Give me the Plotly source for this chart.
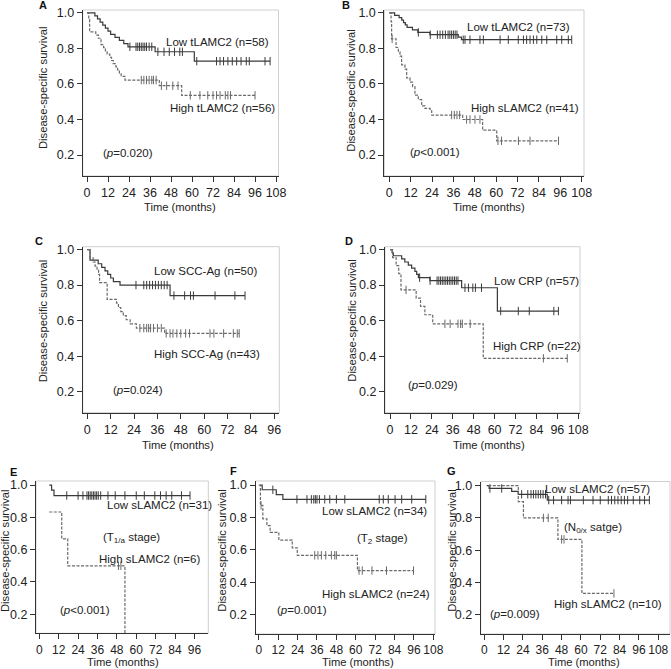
import plotly.graph_objects as go

W, H = 671, 669
FONT = "Arial, Liberation Sans, Helvetica, sans-serif"
SOLID_C = "#3a3a3a"
DASH_C = "#6a6a6a"

# ---------------- data ----------------
# Panel A
a_low_t = [0, 4.5, 6, 7.5, 9, 10.5, 12, 13.5, 16, 18.5, 21, 23.4, 38.9, 61.3]
a_low_s = [1.0, .983, .966, .948, .931, .914, .897, .879, .862, .845, .827, .809, .781, .728]
a_low_end = 104.6
a_low_c = [24.5, 28, 29, 30, 31, 32, 33, 34, 35.5, 37, 40.5, 44, 47, 50, 53, 54.5, 62.7, 74, 76, 78,
           80.5, 83, 85.5, 88, 91, 92.7, 101.7, 104.6]
a_high_t = [0, 1.0, 1.5, 5, 6.5, 8, 9.5, 10.5, 11.5, 13, 14, 15, 16.5, 17.5, 18.5, 19.5, 21.7, 41.3, 54.1]
a_high_s = [1.0, .964, .893, .875, .857, .821, .804, .786, .768, .75, .732, .714, .696, .679, .661, .643,
            .622, .59, .536]
a_high_end = 96
a_high_c = [31, 32.5, 34, 35.5, 37, 38, 39.5, 42.5, 45.5, 49, 52, 59, 64.5, 69, 72, 74, 76, 79, 80.5, 82, 96]

# Panel B
b_low_t = [0, 3, 5.5, 7, 8, 9, 10, 13, 16, 22.8, 38.7, 40.5]
b_low_s = [1.0, .986, .973, .959, .945, .932, .918, .904, .890, .877, .863, .849]
b_low_end = 102.4
b_low_c = [16.3, 23, 27, 28.5, 30, 31.5, 33, 34, 35, 36, 37, 38, 41.5, 42.5, 45.3, 50.9, 52.8, 62.2, 66.8,
           72.4, 75.3, 77.1, 79, 80.9, 82.8, 85.6, 88.4, 94, 96.8, 100.5, 102.4]
b_high_t = [0, 1.0, 1.3, 3.8, 5.1, 6.0, 6.9, 8.8, 9.75, 11.6, 13.1, 14.4, 16.3, 18.2, 20.0, 22.9, 23.8,
            41.2, 52.4, 60.3]
b_high_s = [1.0, .951, .854, .805, .78, .756, .707, .683, .634, .61, .585, .537, .512, .476, .462, .449,
            .425, .40, .34, .28]
b_high_end = 95
b_high_c = [1.6, 35, 36.5, 38, 39.5, 43.4, 45.3, 48.1, 50.9, 61, 63, 72.5, 79, 95]

# Panel C
c_low_t = [0, 1.4, 5.6, 7.4, 9.1, 10.5, 12, 13.4, 16.8, 42.5]
c_low_s = [1.0, .94, .92, .90, .88, .86, .84, .82, .80, .741]
c_low_end = 81
c_low_c = [25, 29, 30.5, 32, 33.5, 35, 36.5, 38, 39.5, 41, 44.5, 50, 53, 54.5, 65.6, 75.8, 81]
c_high_t = [0, 1.4, 3, 4, 5, 5.8, 6.3, 10.2, 15, 16, 17.2, 18.5, 20, 22, 25.2, 39.7]
c_high_s = [1.0, .953, .93, .907, .884, .86, .814, .72, .698, .674, .651, .628, .605, .582, .558, .528]
c_high_end = 78
c_high_c = [27, 29, 30.5, 31.5, 32.5, 34, 36, 38, 40.5, 42.5, 44, 46, 48, 50.5, 52.5, 63, 65, 70, 75, 77, 78]

# Panel D
d_low_t = [0, 1.2, 1.9, 6.7, 8.5, 10.5, 12.4, 14.3, 15.3, 16.3, 22.9, 41.1, 61.6]
d_low_s = [1.0, .982, .965, .947, .93, .912, .895, .877, .86, .842, .825, .785, .654]
d_low_end = 96.6
d_low_c = [17, 23, 27, 28, 29, 30, 31, 32, 33, 34, 35, 36, 37, 38, 39, 43, 45, 47.5, 49, 52.5,
           63.5, 73.6, 79.9, 94, 96.6]
d_high_t = [0, 1.5, 3.5, 5, 6.3, 15, 17.5, 20, 24.5, 53.5]
d_high_s = [1.0, .955, .909, .864, .773, .727, .68, .633, .582, .388]
d_high_end = 101.7
d_high_c = [9.2, 31.5, 34.5, 39, 40.5, 41.5, 46, 88, 101.7]

# Panel E
e_low_t = [6.2, 7.6, 9.1]
e_low_s = [1.0, .968, .935]
e_low_end = 93.3
e_low_c = [17, 24, 27, 29.5, 30.5, 31.5, 32.5, 33.5, 34.5, 35.5, 36.5, 38, 42.5, 47, 53, 60, 65, 71.5,
           75, 78.5, 82, 88, 93.3]
e_high_t = [6.2, 13.9, 17.6, 53]
e_high_s = [.833, .667, .5, 0.0]
e_high_end = 53
e_high_c = [49, 50.5]

# Panel F
f_low_t = [1.0, 2.1, 10.8, 14.9]
f_low_s = [1.0, .971, .941, .912]
f_low_end = 103.3
f_low_c = [8.7, 23.6, 29.8, 32.5, 34, 35, 36, 37.5, 40.8, 43.9, 48, 53.2, 74.5, 77, 80.1, 84.3, 88.4,
           94.6, 103.3]
f_high_t = [0, 1.0, 2.5, 5, 7, 12.4, 20.7, 23.8, 61]
f_high_s = [1.0, .875, .792, .75, .708, .661, .613, .567, .473]
f_high_end = 95.7
f_high_c = [1.4, 34.6, 36.6, 38.7, 41.4, 44.9, 47, 48, 62, 64, 70, 79, 95.7]

# Panel G
g_low_t = [1.5, 3, 17, 21.1, 39.1]
g_low_s = [1.0, .982, .964, .946, .91]
g_low_end = 102.5
g_low_c = [3.5, 10.8, 23.2, 27, 29, 30.5, 32, 33.5, 35, 36.5, 38, 40, 43, 48, 52, 53.5, 61.5, 67.5, 72,
           77, 79, 81, 83, 85, 87, 89, 92.5, 96.5, 99.5, 102.5]
g_high_t = [2.5, 21.1, 24.3, 45.7, 60.6]
g_high_s = [1.0, .9, .8, .667, .333]
g_high_end = 80.5
g_high_c = [36.7, 39.7, 48, 49.5, 80.5]

y_ticks = [0.2, 0.4, 0.6, 0.8, 1.0]
x_ticks_108 = [0, 12, 24, 36, 48, 60, 72, 84, 96, 108]
x_ticks_96 = [0, 12, 24, 36, 48, 60, 72, 84, 96]

# ---------------- panel layout (pixels) ----------------
panels = [
    dict(letter="A", dom_x=(82.7, 278.5), dom_y=(10, 176), xr=(-2.46, 109.4), yr=(0.082, 1.016),
         ticks=x_ticks_108, xfs=12.5,
         low=(a_low_t, a_low_s, a_low_end, a_low_c), high=(a_high_t, a_high_s, a_high_end, a_high_c),
         labels=[("Low tLAMC2 (n=58)", 44.2, 0.837), ("High tLAMC2 (n=56)", 46.5, 0.463),
                 ("(<i>p</i>=0.020)", 8, 0.213)],
         letter_pos=(43, 5), ytitle=(43, 88), xtitle=(180, 206.7)),
    dict(letter="B", dom_x=(384.3, 584), dom_y=(10, 176), xr=(-2.8, 109.3), yr=(0.082, 1.016),
         ticks=x_ticks_108, xfs=12.5,
         low=(b_low_t, b_low_s, b_low_end, b_low_c), high=(b_high_t, b_high_s, b_high_end, b_high_c),
         labels=[("Low tLAMC2 (n=73)", 42.5, 0.921), ("High sLAMC2 (n=41)", 44.8, 0.463),
                 ("(<i>p</i><0.001)", 10.3, 0.219)],
         letter_pos=(346, 5), ytitle=(350.7, 91), xtitle=(489, 206.7)),
    dict(letter="C", dom_x=(82.7, 279.3), dom_y=(246.7, 412.7), xr=(-2.36, 98.6), yr=(0.082, 1.016),
         ticks=x_ticks_96, xfs=12.5,
         low=(c_low_t, c_low_s, c_low_end, c_low_c), high=(c_high_t, c_high_s, c_high_end, c_high_c),
         labels=[("Low SCC-Ag (n=50)", 33.4, 0.878), ("High SCC-Ag (n=43)", 33.4, 0.41),
                 ("(<i>p</i>=0.024)", 12.2, 0.209)],
         letter_pos=(39, 241), ytitle=(43.3, 321), xtitle=(178, 445)),
    dict(letter="D", dom_x=(385, 580), dom_y=(246.7, 412.7), xr=(-2.87, 109), yr=(0.082, 1.016),
         ticks=x_ticks_108, xfs=12.5,
         low=(d_low_t, d_low_s, d_low_end, d_low_c), high=(d_high_t, d_high_s, d_high_end, d_high_c),
         labels=[("Low CRP (n=57)", 58.5, 0.822), ("High CRP (n=22)", 57.7, 0.46),
                 ("(<i>p</i>=0.029)", 9.1, 0.237)],
         letter_pos=(349, 241), ytitle=(351.7, 321), xtitle=(489, 445)),
    dict(letter="E", dom_x=(36, 208.3), dom_y=(481, 633.3), xr=(-2.04, 104.6), yr=(0.082, 1.025),
         ticks=x_ticks_96, xfs=12,
         low=(e_low_t, e_low_s, e_low_end, e_low_c), high=(e_high_t, e_high_s, e_high_end, e_high_c),
         labels=[("Low sLAMC2 (n=31)", 40.7, 0.876), ("(T<sub>1/a</sub> stage)", 38.2, 0.67),
                 ("High sLAMC2 (n=6)", 35.5, 0.542), ("(<i>p</i><0.001)", 11.8, 0.226)],
         letter_pos=(13, 471.7), ytitle=(5, 551), xtitle=(123.3, 661.7)),
    dict(letter="F", dom_x=(255.5, 435), dom_y=(481, 634), xr=(-2.04, 109), yr=(0.082, 1.025),
         ticks=x_ticks_108, xfs=12,
         low=(f_low_t, f_low_s, f_low_end, f_low_c), high=(f_high_t, f_high_s, f_high_end, f_high_c),
         labels=[("Low sLAMC2 (n=34)", 37.9, 0.841), ("(T<sub>2</sub> stage)", 59.6, 0.67),
                 ("High sLAMC2 (n=24)", 37.9, 0.33), ("(<i>p</i>=0.001)", 10, 0.231)],
         letter_pos=(233, 470.7), ytitle=(221.7, 551), xtitle=(358, 661.7)),
    dict(letter="G", dom_x=(480.7, 670), dom_y=(481.5, 634), xr=(-2.23, 115.3), yr=(0.082, 1.025),
         ticks=x_ticks_108, xfs=12,
         low=(g_low_t, g_low_s, g_low_end, g_low_c), high=(g_high_t, g_high_s, g_high_end, g_high_c),
         labels=[("Low sLAMC2 (n=57)", 36.2, 0.977), ("(N<sub>0/x</sub> satge)", 48, 0.735),
                 ("High sLAMC2 (n=10)", 41.8, 0.27), ("(<i>p</i>=0.009)", 2.5, 0.205)],
         letter_pos=(451, 471), ytitle=(451.7, 551), xtitle=(583.8, 661.7)),
]


def surv_at(t, times, surv):
    val = surv[0]
    for ti, si in zip(times, surv):
        if ti <= t:
            val = si
    return val


def px(x):
    return x / W


def py(y):
    return 1 - y / H


fig = go.Figure()
annotations = []
shapes = []
layout = {}

for i, p in enumerate(panels):
    n = "" if i == 0 else str(i + 1)
    xa, ya = "x" + n, "y" + n
    for key, color, dash in (("low", SOLID_C, "solid"), ("high", DASH_C, "3px,1.5px")):
        times, surv, end, cens = p[key]
        fig.add_trace(go.Scatter(
            x=list(times) + [end], y=list(surv) + [surv[-1]], mode="lines",
            line=dict(color=color, width=1.2, dash=dash, shape="hv"),
            xaxis=xa, yaxis=ya, showlegend=False, hoverinfo="skip"))
        fig.add_trace(go.Scatter(
            x=cens, y=[surv_at(c, times, surv) for c in cens], mode="markers",
            marker=dict(symbol="line-ns-open", size=6, color=color, line=dict(color=color, width=1)),
            xaxis=xa, yaxis=ya, showlegend=False, hoverinfo="skip", cliponaxis=False))
    layout["xaxis" + n] = dict(
        domain=[px(p["dom_x"][0]), px(p["dom_x"][1])], range=list(p["xr"]), anchor=ya,
        tickvals=p["ticks"], ticks="outside", ticklen=5, tickcolor="#333", showline=True,
        linecolor="#333", linewidth=1, showgrid=False, zeroline=False, automargin=False,
        tickangle=0, tickfont=dict(size=p["xfs"], color="#222", family=FONT))
    layout["yaxis" + n] = dict(
        domain=[py(p["dom_y"][1]), py(p["dom_y"][0])], range=list(p["yr"]), anchor=xa,
        tickvals=y_ticks, tickformat=".1f", ticks="outside", ticklen=5, tickcolor="#333",
        showline=True, linecolor="#333", linewidth=1, showgrid=False, zeroline=False,
        automargin=False, tickfont=dict(size=12.5, color="#222", family=FONT))
    # light frame (top / right)
    shapes.append(dict(type="rect", xref=xa + " domain", yref=ya + " domain", x0=0, x1=1, y0=0, y1=1,
                       line=dict(color="#cfcfcf", width=1), layer="below"))
    for txt, lx, ly in p["labels"]:
        annotations.append(dict(text=txt, x=lx, y=ly, xref=xa, yref=ya, xanchor="left",
                                yanchor="middle", showarrow=False,
                                font=dict(size=11.5, color="#222", family=FONT)))
    annotations.append(dict(text="<b>%s</b>" % p["letter"], x=px(p["letter_pos"][0]),
                            y=py(p["letter_pos"][1]), xref="paper", yref="paper",
                            xanchor="center", yanchor="middle", showarrow=False,
                            font=dict(size=11, color="#111", family=FONT)))
    annotations.append(dict(text="Disease-specific survival", x=px(p["ytitle"][0]),
                            y=py(p["ytitle"][1]), xref="paper", yref="paper", textangle=-90,
                            xanchor="center", yanchor="middle", showarrow=False,
                            font=dict(size=11.2, color="#222", family=FONT)))
    annotations.append(dict(text="Time (months)", x=px(p["xtitle"][0]), y=py(p["xtitle"][1]),
                            xref="paper", yref="paper", xanchor="center", yanchor="middle",
                            showarrow=False, font=dict(size=11.2, color="#222", family=FONT)))

fig.update_layout(
    width=W, height=H, margin=dict(l=0, r=0, t=0, b=0, autoexpand=False), paper_bgcolor="white",
    plot_bgcolor="white", font=dict(family=FONT, color="#222"),
    annotations=annotations, shapes=shapes, **layout)

fig.write_html("out.html", config={"displayModeBar": False, "staticPlot": True},
               post_script="document.body.style.margin='0px';document.body.style.overflow='hidden';")
